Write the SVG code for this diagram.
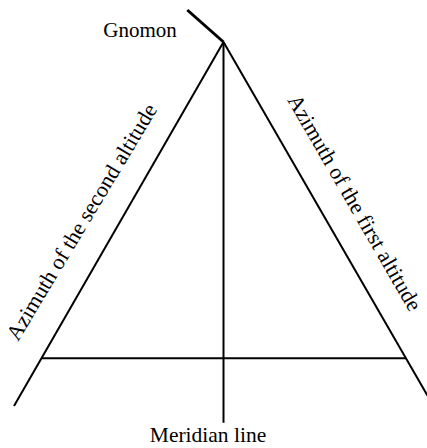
<svg xmlns="http://www.w3.org/2000/svg" width="427" height="448" viewBox="0 0 427 448">
  <style>
    .ln { stroke: #000; stroke-width: 2; fill: none; stroke-linecap: butt; }
    .lbl { font-family: "Liberation Serif", "DejaVu Serif", serif; font-size: 21px; fill: #000; }
    .rot { font-size: 22px; }
  </style>
  <rect x="0" y="0" width="427" height="448" fill="#fff"/>
  <g id="connectors">
    <line id="gnomon-line" class="ln" x1="187.3" y1="10" x2="223.5" y2="42" style="stroke-width:3"/>
    <line id="meridian" class="ln" x1="223.5" y1="42" x2="223.5" y2="422.7"/>
    <line id="second-azimuth" class="ln" x1="223.5" y1="42" x2="14" y2="406"/>
    <line id="first-azimuth" class="ln" x1="223.5" y1="42" x2="441.6" y2="420"/>
    <line id="base" class="ln" x1="41.7" y1="358.3" x2="406" y2="358.3"/>
  </g>
  <g id="gnomon">
    <text class="lbl" x="103.3" y="36.7">Gnomon</text>
  </g>
  <g id="meridian-label">
    <text class="lbl" x="208" y="441.7" text-anchor="middle" style="font-size:21.5px">Meridian line</text>
  </g>
  <g id="second-altitude-label">
    <text class="lbl rot" transform="translate(18,342) rotate(-59)">Azimuth of the second altitude</text>
  </g>
  <g id="first-altitude-label">
    <text class="lbl rot" transform="translate(287,100) rotate(60)">Azimuth of the first altitude</text>
  </g>
</svg>
